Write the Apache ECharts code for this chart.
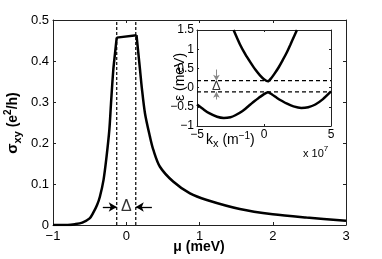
<!DOCTYPE html>
<html><head><meta charset="utf-8">
<script src="https://cdn.jsdelivr.net/npm/echarts@6/dist/echarts.min.js"></script>
<style>html,body{margin:0;padding:0;background:#fff}#c{width:382px;height:259px}</style>
</head><body><div id="c"></div>
<script>
// Main panel: Hall conductivity vs chemical potential
const muRise    = [-1, -0.8, -0.7, -0.6, -0.5, -0.45, -0.4, -0.36, -0.31, -0.27, -0.231, -0.208, -0.177, -0.153, -0.13];
const sigmaRise = [0, 0, 0.002, 0.006, 0.016, 0.03, 0.048, 0.069, 0.11, 0.165, 0.232, 0.297, 0.378, 0.419, 0.457];
const muFall    = [0.14, 0.165, 0.19, 0.211, 0.256, 0.324, 0.37, 0.46, 0.64, 0.87, 1.1, 1.55, 2.0, 2.46, 3.0];
const sigmaFall = [0.463, 0.419, 0.375, 0.337, 0.272, 0.215, 0.183, 0.142, 0.106, 0.077, 0.061, 0.039, 0.026, 0.018, 0.0105];
const gapEdgesMu = [-0.13, 0.13];
const gapArrowMu = [[-0.32, -0.13], [0.35, 0.13]];
const gapArrowSigma = 0.044;

// Inset: band structure
const kUpper = [-2.27, -1.8, -1.4, -1.0, -0.65, -0.3, 0.0, 0.3, 0.55, 0.8, 1.1, 1.34, 1.65, 1.96, 2.25, 2.46];
const eUpper = [1.5, 1.13, 0.87, 0.65, 0.47, 0.32, 0.22, 0.165, 0.25, 0.37, 0.53, 0.68, 0.88, 1.11, 1.34, 1.5];
const kLower = [-5, -4.5, -4.13, -3.5, -3.0, -2.5, -2.14, -1.6, -1.15, -0.7, -0.4, 0, 0.3, 0.6, 0.97, 1.35, 1.72, 2.2, 2.78, 3.3, 3.83, 4.4, 5];
const eLower = [-0.44, -0.57, -0.66, -0.76, -0.79, -0.77, -0.72, -0.61, -0.48, -0.35, -0.27, -0.17, -0.12, -0.18, -0.27, -0.35, -0.42, -0.49, -0.53, -0.51, -0.44, -0.3, -0.1];
const gapEdgesE = [0.18, -0.11];
const insetArrowK = -3.55;
const insetArrowE = [[0.47, 0.18], [-0.31, -0.11]];

const zip = (a, b) => a.map((v, i) => [v, b[i]]);
const minus = v => String(v).replace('-', '\u2212');
const FONT = 'Liberation Sans, Arial, Helvetica, sans-serif';
const AXC = '#222';

function axis(extra) {
  return Object.assign({
    type: 'value',
    axisLine: { show: true, onZero: false, lineStyle: { color: AXC, width: 1 } },
    axisTick: { show: true, inside: true, length: 3, lineStyle: { color: AXC } },
    splitLine: { show: false },
    axisLabel: { show: true, color: '#000', fontFamily: FONT, fontSize: 13, formatter: minus }
  }, extra);
}
function mirror(extra) {
  const a = axis(extra);
  a.axisLabel = { show: false };
  return a;
}
const insetTick = { show: true, inside: true, length: 2, lineStyle: { color: AXC } };

const chart = echarts.init(document.getElementById('c'), null, { renderer: 'canvas' });
chart.setOption({
  animation: false,
  backgroundColor: '#fff',
  grid: [
    { left: 53, top: 20, width: 293, height: 205, containLabel: false, outerBoundsMode: 'none' },
    { left: 197, top: 30, width: 134, height: 96, containLabel: false, outerBoundsMode: 'none', show: true, backgroundColor: '#fff', borderWidth: 0, z: 5 }
  ],
  xAxis: [
    axis({ gridIndex: 0, min: -1, max: 3, interval: 1, position: 'bottom',
      axisLabel: { color: '#000', fontFamily: FONT, fontSize: 13, margin: 5, formatter: minus } }),
    mirror({ gridIndex: 0, min: -1, max: 3, interval: 1, position: 'top' }),
    axis({ gridIndex: 1, min: -5, max: 5, interval: 5, position: 'bottom', z: 6, axisTick: insetTick,
      axisLabel: { color: '#000', fontFamily: FONT, fontSize: 12, margin: 3, formatter: minus } }),
    mirror({ gridIndex: 1, min: -5, max: 5, interval: 5, position: 'top', z: 6, axisTick: insetTick })
  ],
  yAxis: [
    axis({ gridIndex: 0, min: 0, max: 0.5, interval: 0.1, position: 'left',
      axisLabel: { color: '#000', fontFamily: FONT, fontSize: 13, margin: 4, formatter: minus } }),
    mirror({ gridIndex: 0, min: 0, max: 0.5, interval: 0.1, position: 'right' }),
    axis({ gridIndex: 1, min: -1, max: 1.5, interval: 0.5, position: 'left', z: 6, axisTick: insetTick,
      axisLabel: { color: '#000', fontFamily: FONT, fontSize: 12, margin: 3, formatter: minus } }),
    mirror({ gridIndex: 1, min: -1, max: 1.5, interval: 0.5, position: 'right', z: 6, axisTick: insetTick })
  ],
  series: [
    { type: 'line', xAxisIndex: 0, yAxisIndex: 0, data: zip(muRise, sigmaRise), showSymbol: false,
      smooth: 0.3, lineStyle: { color: '#000', width: 2.5 }, z: 3 },
    { type: 'line', xAxisIndex: 0, yAxisIndex: 0,
      data: [[muRise[muRise.length - 1], sigmaRise[sigmaRise.length - 1]], [muFall[0], sigmaFall[0]]],
      showSymbol: false, lineStyle: { color: '#000', width: 2.5 }, z: 3 },
    { type: 'line', xAxisIndex: 0, yAxisIndex: 0, data: zip(muFall, sigmaFall), showSymbol: false,
      smooth: 0.3, lineStyle: { color: '#000', width: 2.5 }, z: 3 },
    ...gapEdgesMu.map(m => ({ type: 'line', xAxisIndex: 0, yAxisIndex: 0, data: [[m, 0], [m, 0.5]], showSymbol: false,
      lineStyle: { color: '#000', width: 1.2, type: [3, 2] }, z: 2 })),
    { type: 'line', xAxisIndex: 0, yAxisIndex: 0, data: [], showSymbol: false,
      markLine: { silent: true, symbol: ['none', 'arrow'], symbolSize: [7, 8], label: { show: false },
        lineStyle: { color: '#000', width: 1.3, type: 'solid' },
        data: gapArrowMu.map(p => [{ coord: [p[0], gapArrowSigma] }, { coord: [p[1], gapArrowSigma] }]) } },
    { type: 'scatter', xAxisIndex: 0, yAxisIndex: 0, data: [[0, gapArrowSigma]], symbolSize: 1,
      itemStyle: { color: 'rgba(0,0,0,0)' }, z: 9,
      label: { show: true, position: 'inside', formatter: 'Δ', color: '#000', fontFamily: FONT, fontSize: 16 } },

    { type: 'line', xAxisIndex: 2, yAxisIndex: 2, data: zip(kUpper, eUpper), showSymbol: false, smooth: 0.2,
      lineStyle: { color: '#000', width: 2.5 }, z: 8 },
    { type: 'line', xAxisIndex: 2, yAxisIndex: 2, data: zip(kLower, eLower), showSymbol: false, smooth: 0.2,
      lineStyle: { color: '#000', width: 2.5 }, z: 8 },
    ...gapEdgesE.map(e => ({ type: 'line', xAxisIndex: 2, yAxisIndex: 2, data: [[-5, e], [5, e]], showSymbol: false,
      lineStyle: { color: '#000', width: 1.2, type: [4, 3] }, z: 7 })),
    { type: 'line', xAxisIndex: 2, yAxisIndex: 2, data: [], showSymbol: false, z: 8,
      markLine: { silent: true, symbol: ['none', 'arrow'], symbolSize: [5, 6], label: { show: false },
        lineStyle: { color: '#888', width: 1, type: 'solid' },
        data: insetArrowE.map(p => [{ coord: [insetArrowK, p[0]] }, { coord: [insetArrowK, p[1]] }]) } },
    { type: 'scatter', xAxisIndex: 2, yAxisIndex: 2, data: [[insetArrowK, 0.03]], symbolSize: 1,
      itemStyle: { color: 'rgba(0,0,0,0)' }, z: 9,
      label: { show: true, position: 'inside', formatter: 'Δ', color: '#000', fontFamily: FONT, fontSize: 13 } }
  ],
  graphic: [
    { type: 'text', x: 199, y: 247, z: 10,
      style: { text: 'μ (meV)', fill: '#000', font: 'bold 14px ' + FONT, align: 'center', verticalAlign: 'middle' } },
    { type: 'text', x: 13, y: 123, rotation: Math.PI / 2, z: 10,
      style: { text: '{g|σ}{sub|xy}{n| (e}{sup|2}{n|/h)}', fill: '#000', align: 'center', verticalAlign: 'middle',
        font: 'bold 14px ' + FONT,
        rich: {
          g: { fontFamily: FONT, fontSize: 15, fontWeight: 'bold', lineHeight: 20, verticalAlign: 'middle' },
          sub: { fontFamily: FONT, fontSize: 11, fontWeight: 'bold', lineHeight: 20, verticalAlign: 'bottom', padding: [6, 0, 0, 0] },
          n: { fontFamily: FONT, fontSize: 14, fontWeight: 'bold', lineHeight: 20, verticalAlign: 'middle' },
          sup: { fontFamily: FONT, fontSize: 10, fontWeight: 'bold', lineHeight: 20, verticalAlign: 'top', padding: [0, 0, 6, 0] }
        } } },
    { type: 'text', x: 180, y: 77, rotation: Math.PI / 2, z: 10,
      style: { text: 'ε (meV)', fill: '#000', font: '14px ' + FONT, align: 'center', verticalAlign: 'middle' } },
    { type: 'text', left: 206, top: 131, z: 10,
      style: { text: '{k|k}{s|x}{n| (m}{p|\u22121}{n|)}', fill: '#000', font: '14px ' + FONT,
        rich: {
          k: { fontSize: 14, fontFamily: FONT, lineHeight: 18, verticalAlign: 'middle' },
          s: { fontSize: 11, fontFamily: FONT, lineHeight: 18, verticalAlign: 'bottom', padding: [6, 0, 0, 0] },
          n: { fontSize: 14, fontFamily: FONT, lineHeight: 18, verticalAlign: 'middle' },
          p: { fontSize: 10, fontFamily: FONT, lineHeight: 18, verticalAlign: 'top', padding: [0, 0, 6, 0] }
        } } },
    { type: 'text', left: 303, top: 145, z: 10,
      style: { text: '{n|x 10}{p|7}', fill: '#000',
        rich: {
          n: { fontSize: 11, fontFamily: FONT, lineHeight: 14, verticalAlign: 'bottom' },
          p: { fontSize: 8, fontFamily: FONT, lineHeight: 14, verticalAlign: 'top' }
        } } }
  ]
});
</script>
</body></html>
